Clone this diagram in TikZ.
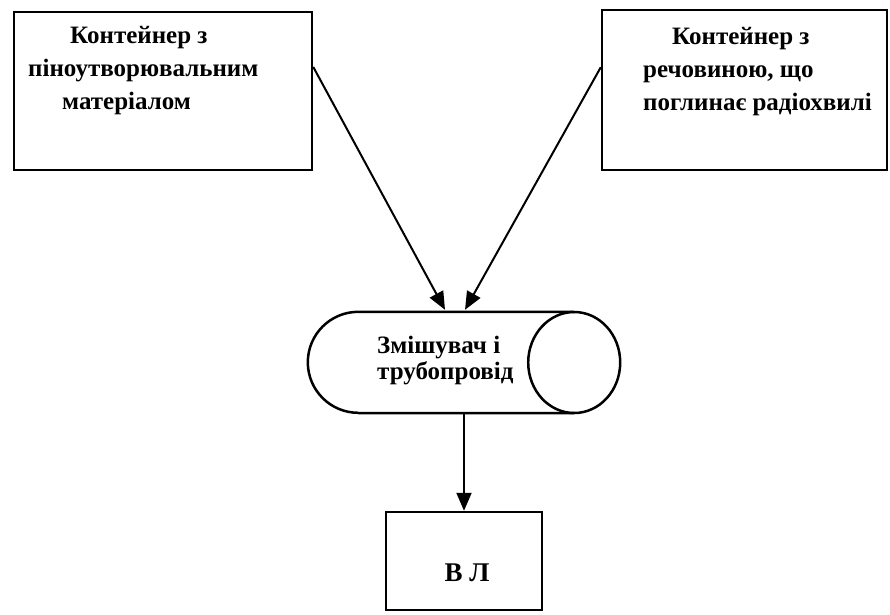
\documentclass[tikz,border=0pt]{standalone}
\usepackage{fontspec}
\setmainfont{Liberation Serif}
\usetikzlibrary{arrows.meta,calc}
\begin{document}
\begin{tikzpicture}[x=1pt,y=-1pt,
  boxstyle/.style={draw, line width=2.5pt, rectangle, inner sep=0pt},
  txt/.style={inner sep=0pt, align=left, font=\fontsize{25}{33}\selectfont\bfseries},
  conn/.style={line width=2pt, -{Triangle[length=18pt,width=15pt]}}]
\useasboundingbox (0,0) rectangle (890,614);
% boxes
\node[boxstyle, minimum width=298pt, minimum height=158pt] (lbox) at (163,91) {};
\node[boxstyle, minimum width=285pt, minimum height=160pt] (rbox) at (744.5,90) {};
\node[boxstyle, minimum width=156pt, minimum height=98pt] (vl) at (464,561) {};
% mixer
\node[inner sep=0pt, minimum width=312pt, minimum height=101pt] (mix) at (464,362.5) {};
\draw[line width=2.5pt]
  ($(mix.north west)+(50.5,0)$) -- ($(mix.north east)+(-46,0)$)
  ($(mix.south west)+(50.5,0)$) -- ($(mix.south east)+(-46,0)$)
  ($(mix.north west)+(50.5,0)$) arc[start angle=270, end angle=90, radius=50.5];
\draw[line width=2.5pt] ($(mix.east)+(-46,0)$) ellipse[x radius=46, y radius=50.5];
% texts
\node[txt, anchor=north west] (ltext) at (28,26)
  {\hspace*{42pt}Контейнер з\\піноутворювальним\\\hspace*{34pt}матеріалом};
\node[txt, anchor=north west] (rtext) at (643,27)
  {\hspace*{29pt}Контейнер з\\речовиною, що\\поглинає радіохвилі};
\node[txt, anchor=north west, font=\fontsize{25}{26}\selectfont\bfseries] (mtext) at (377,336)
  {Змішувач і\\трубопровід};
\node[inner sep=0pt, anchor=base, font=\fontsize{27}{30}\selectfont\bfseries] (vtext) at (467,581) {В Л};
% connectors
\draw[conn] ($(lbox.north east)!0.35!(lbox.south east)$) -- ($(mix.north)+(-19,-2)$);
\draw[conn] ($(rbox.north west)!0.36!(rbox.south west)$) -- ($(mix.north)+(1,-2)$);
\draw[conn] (mix.south) -- (vl.north);
\end{tikzpicture}
\end{document}
